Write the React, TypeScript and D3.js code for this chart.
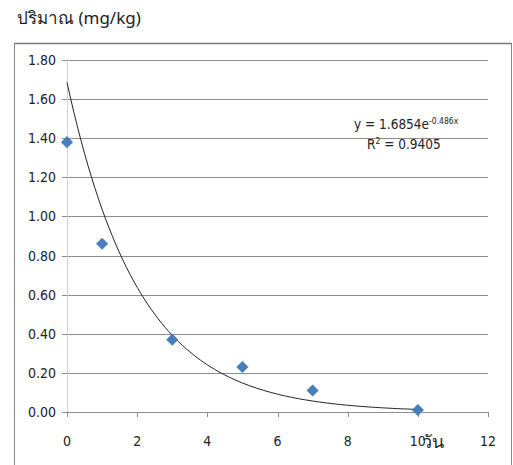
import React from 'react';
import * as d3 from 'd3';

// data
const days = [0, 1, 3, 5, 7, 10];
const amounts = [1.38, 0.86, 0.37, 0.23, 0.11, 0.01];
const xTicks = [0, 2, 4, 6, 8, 10, 12];
const yTicks = [0, 0.2, 0.4, 0.6, 0.8, 1.0, 1.2, 1.4, 1.6, 1.8];
const trendA = 1.6854;
const trendB = -0.486;

const W = 513;
const H = 465;
const margin = { left: 67, right: 25, top: 60, bottom: 53 };

const App = () => {
  const x = d3.scaleLinear().domain([0, 12]).range([margin.left, W - margin.right]);
  const y = d3.scaleLinear().domain([0, 1.8]).range([H - margin.bottom, margin.top]);

  const trendX = d3.range(0, 10.001, 0.1);
  const line = d3
    .line<number>()
    .x((d) => x(d))
    .y((d) => y(trendA * Math.exp(trendB * d)))
    .curve(d3.curveMonotoneX);

  const narrow = "'DejaVu Sans Condensed', 'Liberation Sans Narrow', Arial, sans-serif";

  return (
    <svg
      width={W}
      height={H}
      style={{ position: 'absolute', left: 0, top: 0, background: '#fff' }}
    >
      {/* chart border */}
      <rect x={14.5} y={43.5} width={497} height={440} fill="none" stroke="#888" strokeWidth={1} />
      <line x1={14.5} x2={511.5} y1={43.5} y2={43.5} stroke="#777" strokeWidth={1.5} />

      <text x={17} y={24} fontSize={17} fill="#222" fontFamily="'Noto Sans', Arial, sans-serif">
        ปริมาณ (mg/kg)
      </text>

      {/* horizontal gridlines */}
      {yTicks.map((t) => (
        <g key={t}>
          <line
            x1={x(0) - 5}
            x2={x(12)}
            y1={Math.round(y(t)) + 0.5}
            y2={Math.round(y(t)) + 0.5}
            stroke="#8c8c8c"
            strokeWidth={1}
          />
          <text
            x={x(0) - 11}
            y={y(t) + 5}
            textAnchor="end"
            fontSize={14}
            fill="#222"
            fontFamily={narrow}
          >
            {t.toFixed(2)}
          </text>
        </g>
      ))}

      {/* y axis line */}
      <line x1={x(0) + 0.5} x2={x(0) + 0.5} y1={y(1.8)} y2={y(0) + 5} stroke="#d0d0d0" />

      {/* x ticks */}
      {xTicks.map((t) => (
        <g key={t}>
          <line
            x1={Math.round(x(t)) + 0.5}
            x2={Math.round(x(t)) + 0.5}
            y1={y(0)}
            y2={y(0) + 5}
            stroke="#8c8c8c"
          />
          <text x={x(t)} y={y(0) + 34} textAnchor="middle" fontSize={14} fill="#222" fontFamily={narrow}>
            {t}
          </text>
        </g>
      ))}

      {/* trend line */}
      <path d={line(trendX) || ''} fill="none" stroke="#222" strokeWidth={1} />

      {/* points */}
      {days.map((d, i) => (
        <path
          key={i}
          d={d3.symbol(d3.symbolDiamond, 75)() || ''}
          transform={`translate(${x(d)},${y(amounts[i])}) scale(1.3,0.75)`}
          fill="#4a7ebb"
        />
      ))}

      {/* equation */}
      <text x={354} y={129} fontSize={13.5} fill="#222" fontFamily={narrow}>
        y = 1.6854e
        <tspan dy={-5} fontSize={8.5}>
          -0.486x
        </tspan>
      </text>
      <text x={367} y={149} fontSize={13.5} fill="#222" fontFamily={narrow}>
        R<tspan dy={-5} fontSize={8.5}>2</tspan>
        <tspan dy={5}> = 0.9405</tspan>
      </text>

      <text x={422} y={448} fontSize={18} fill="#222" fontFamily="'Noto Sans', serif">
        วัน
      </text>
    </svg>
  );
};

export default App;
